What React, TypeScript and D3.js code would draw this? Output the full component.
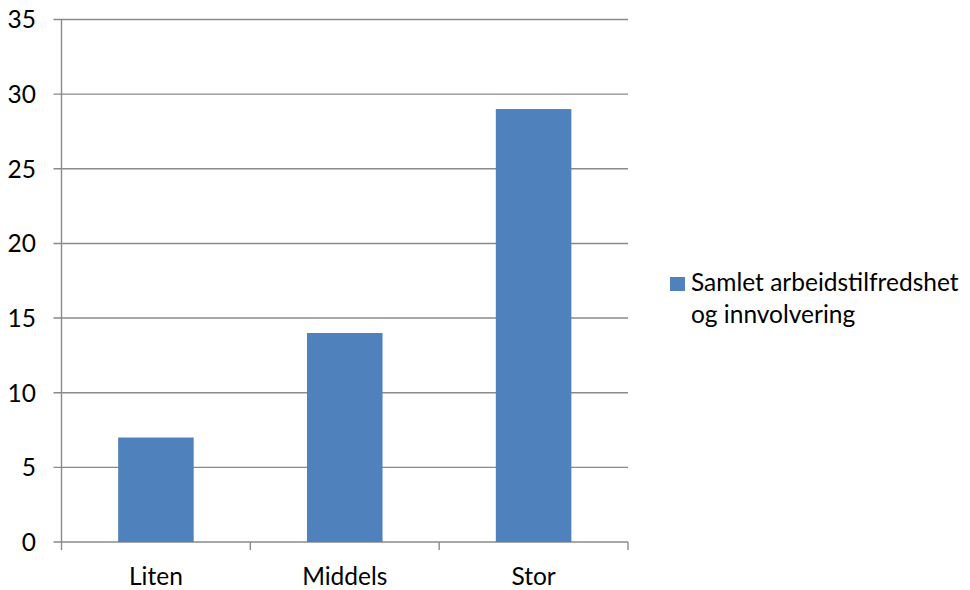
import React from "react";
import * as d3 from "d3";

const categories = ["Liten", "Middels", "Stor"];
const values = [7, 14, 29];
const yTicks = [0, 5, 10, 15, 20, 25, 30, 35];
const seriesName = ["Samlet arbeidstilfredshet", "og innvolvering"];

const W = 970;
const H = 590;
const plot = { left: 61.5, right: 628, top: 19.5, bottom: 542 };
const FONT = "Lato, 'Open Sans', sans-serif";
const FS = 24.5;
const GRID = "#8a8a8a";
const BAR = "#4F81BD";

export default function App() {
  const y = d3.scaleLinear().domain([0, 35]).range([plot.bottom, plot.top]);
  const x = d3
    .scaleBand<string>()
    .domain(categories)
    .range([plot.left, plot.right])
    .paddingInner(0.6)
    .paddingOuter(0.3);
  const band = d3.scaleBand<string>().domain(categories).range([plot.left, plot.right]);

  const boundaries = [plot.left, ...categories.map((c) => (band(c) as number) + band.bandwidth())];

  return (
    <svg
      width={W}
      height={H}
      style={{ position: "absolute", left: 0, top: 0, background: "#fff" }}
      fontFamily={FONT}
    >
      {/* horizontal gridlines with left tick marks */}
      {yTicks.map((t) => (
        <g key={t}>
          <line x1={plot.left - 8} x2={plot.right} y1={y(t)} y2={y(t)} stroke={GRID} strokeWidth={1.4} />
          <text x={36} y={y(t)} dy="0.36em" textAnchor="end" fontSize={FS} fill="#000">
            {t}
          </text>
        </g>
      ))}
      {/* y axis line */}
      <line x1={plot.left} x2={plot.left} y1={plot.top} y2={plot.bottom} stroke={GRID} strokeWidth={1.4} />
      {/* x axis tick marks at category boundaries */}
      {boundaries.map((b, i) => (
        <line key={i} x1={b} x2={b} y1={plot.bottom} y2={plot.bottom + 8} stroke={GRID} strokeWidth={1.4} />
      ))}
      {/* bars */}
      {categories.map((c, i) => (
        <rect
          key={c}
          x={x(c)}
          y={y(values[i])}
          width={x.bandwidth()}
          height={y(0) - y(values[i])}
          fill={BAR}
        />
      ))}
      {/* category labels */}
      {categories.map((c) => (
        <text
          key={c}
          x={(band(c) as number) + band.bandwidth() / 2}
          y={585}
          textAnchor="middle"
          fontSize={FS}
          fill="#000"
        >
          {c}
        </text>
      ))}
      {/* legend */}
      <rect x={670} y={277} width={15} height={14} fill={BAR} />
      {seriesName.map((line, i) => (
        <text key={i} x={691} y={291 + i * 32} fontSize={FS} fill="#000">
          {line}
        </text>
      ))}
    </svg>
  );
}
